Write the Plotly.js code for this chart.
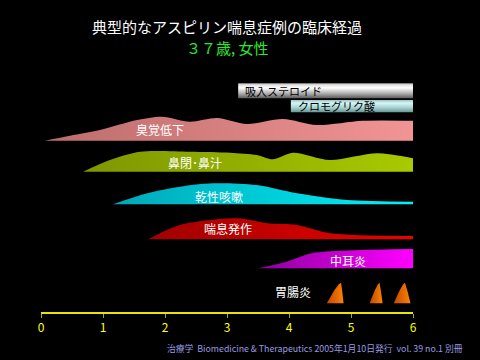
<!DOCTYPE html>
<html>
<head>
<meta charset="utf-8">
<script src="https://cdn.plot.ly/plotly-3.0.1.min.js"></script>
<style>html,body{margin:0;padding:0;background:#000;}#chart{width:480px;height:360px;}</style>
</head>
<body>
<div id="chart"></div>
<script>
// ---- data (years / intensity) ----
const titleText = '典型的なアスピリン喘息症例の臨床経過';
const subtitleText = '３７歳, 女性';
const footerText = '治療学  Biomedicine &amp; Therapeutics 2005年1月10日発行  vol. 39 no.1 別冊';
const tickVals = [0, 1, 2, 3, 4, 5, 6];
const tickLabels = ['0', '1', '2', '3', '4', '5', '6'];
const unitLabel = '(年)';

const bandNames = ['臭覚低下', '鼻閉･鼻汁', '乾性咳嗽', '喘息発作', '中耳炎'];
const smellX = [0.06, 0.47, 0.95, 1.55, 1.95, 2.40, 2.84, 3.32, 3.90, 4.45, 5.19, 6.0];
const smellH = [0, 5, 10.7, 20.7, 24, 19, 22.7, 16.7, 21.7, 15.7, 20, 20];
const noseX = [0.68, 1.11, 1.60, 2.40, 3.05, 3.48, 3.74, 4.06, 4.66, 5.42, 6.0];
const noseH = [0, 11.7, 20, 20, 19, 16.7, 12.4, 19, 11.7, 18.4, 13.4];
const coughX = [1.16, 1.71, 2.24, 2.77, 3.48, 4.13, 4.94, 6.0];
const coughH = [0, 11, 17.6, 21, 19.3, 11, 4.3, 2.6];
const asthmaX = [1.73, 2.24, 3.16, 3.65, 4.13, 4.66, 6.0];
const asthmaH = [0, 14.3, 21, 16, 14.3, 6, 3.3];
const earX = [3.50, 3.96, 4.39, 6.0];
const earH = [0, 6.6, 15.3, 19.3];

const giName = '胃腸炎';
const giStart = [4.61, 5.30, 5.69];
const giPeak = [4.84, 5.46, 5.87];
const giEnd = [4.88, 5.51, 5.96];
const giHeight = [20.6, 20.6, 20.6];

const treatNames = ['吸入ステロイド', 'クロモグリク酸'];
const treatStart = [3.18, 4.03];
const treatEnd = [6.03, 6.03];

// ---- layout / style ----
const rowBase = [171.3, 140.3, 107.7, 72.7, 43.7, 8.7];
const treatRows = [[213.7, 228.7], [199.7, 212.0]];
const bandGrad = [
  [[0, '#bc6c6c'], [1, '#f29494']],
  [[0, '#7e9600'], [1, '#a8ca00']],
  [[0, '#00a8b8'], [1, '#00f0f8']],
  [[0, '#a00000'], [1, '#ea0000']],
  [[0, '#8c00a0'], [1, '#ff00ff']]
];
const giGrad = [[0, '#c04800'], [1, '#ff8200']];
const treatGrad = [
  [[0, '#5a5a5a'], [0.35, '#b4b4b4'], [0.7, '#ffffff'], [0.9, '#e0e0e0'], [1, '#a8a8a8']],
  [[0, '#6a9494'], [0.4, '#a8d4d4'], [0.75, '#d8f6f6'], [1, '#9cc4c4']]
];
const bandLabelPos = [[1.92, 183], [2.48, 150], [2.87, 115.3], [3.02, 84], [4.95, 52]];
const giLabelPos = [4.06, 21];
const FONT = '"Noto Sans CJK JP", "Noto Sans", sans-serif';

const bandX = [smellX, noseX, coughX, asthmaX, earX];
const bandH = [smellH, noseH, coughH, asthmaH, earH];

const traces = [];
bandX.forEach((xs, i) => {
  const base = rowBase[i];
  traces.push({x: xs, y: xs.map(() => base), mode: 'lines', line: {width: 0},
    hoverinfo: 'skip', showlegend: false});
  traces.push({x: xs, y: bandH[i].map(h => base + h), mode: 'lines',
    line: {width: 0, shape: 'spline', smoothing: 0.8}, fill: 'tonexty',
    fillgradient: {type: 'horizontal', colorscale: bandGrad[i]},
    hoverinfo: 'skip', showlegend: false, name: bandNames[i]});
});

giStart.forEach((s, i) => {
  const p = giPeak[i], e = giEnd[i], h = giHeight[i], b = rowBase[5];
  const fx = [0, 0.25, 0.55, 0.85, 1];
  const fy = [0, 0.32, 0.66, 0.92, 1];
  const xs = fx.map(f => s + f * (p - s)).concat([p + 0.5 * (e - p), e, s]);
  const ys = fy.map(f => b + f * h).concat([b + 0.55 * h, b, b]);
  traces.push({x: xs, y: ys, mode: 'lines', line: {width: 0}, fill: 'toself',
    fillgradient: {type: 'horizontal', colorscale: giGrad},
    hoverinfo: 'skip', showlegend: false, name: giName});
});

treatStart.forEach((s, i) => {
  const lo = treatRows[i][0], hi = treatRows[i][1], e = treatEnd[i];
  traces.push({x: [s, e, e, s, s], y: [lo, lo, hi, hi, lo], mode: 'lines',
    line: {width: 0}, fill: 'toself',
    fillgradient: {type: 'vertical', colorscale: treatGrad[i]},
    hoverinfo: 'skip', showlegend: false, name: treatNames[i], cliponaxis: false});
});

const annotations = [];
bandNames.forEach((n, i) => {
  annotations.push({x: bandLabelPos[i][0], y: bandLabelPos[i][1], xref: 'x', yref: 'y',
    text: n, showarrow: false, font: {family: FONT, size: 12, color: '#ffffff'}});
});
annotations.push({x: giLabelPos[0], y: giLabelPos[1], xref: 'x', yref: 'y', text: giName,
  showarrow: false, font: {family: FONT, size: 12, color: '#ffffff'}});
treatNames.forEach((n, i) => {
  annotations.push({x: treatStart[i] + 0.08, y: (treatRows[i][0] + treatRows[i][1]) / 2,
    xref: 'x', yref: 'y', xanchor: 'left', text: n, showarrow: false,
    font: {family: FONT, size: 11, color: '#000000'}});
});
annotations.push({x: 0.5, y: 264 / 252, xref: 'paper', yref: 'paper', xanchor: 'center', yanchor: 'middle',
  text: subtitleText, showarrow: false, font: {family: FONT, size: 15, color: '#2ee82e'}});
annotations.push({x: 6.24, y: -12 / 252, xref: 'x', yref: 'paper', text: unitLabel,
  showarrow: false, yanchor: 'middle', font: {family: FONT, size: 12, color: '#ffff00'}});
annotations.push({x: 124 / 372, y: -36 / 252, xref: 'paper', yref: 'paper', xanchor: 'left', yanchor: 'middle',
  text: footerText, showarrow: false, font: {family: FONT, size: 8.8, color: '#9a9ae0'}});

const layout = {
  width: 480, height: 360,
  margin: {l: 41, r: 67, t: 60, b: 48, pad: 0},
  paper_bgcolor: '#000000', plot_bgcolor: '#000000',
  showlegend: false,
  title: {text: titleText, x: 0.5, xref: 'paper', xanchor: 'center', y: 1 - 28 / 360, yanchor: 'middle',
    font: {family: FONT, size: 15, color: '#ffffff'}},
  xaxis: {range: [0, 6], tickvals: tickVals, ticktext: tickLabels, showline: true,
    linecolor: '#e6e600', linewidth: 2, ticks: 'outside', ticklen: 4, tickwidth: 1,
    tickcolor: '#a8a800', tickfont: {family: FONT, size: 12, color: '#ffff00'},
    showgrid: false, zeroline: false, fixedrange: true},
  yaxis: {range: [0, 252], visible: false, fixedrange: true},
  annotations: annotations
};

Plotly.newPlot('chart', traces, layout, {displayModeBar: false, staticPlot: true});
</script>
</body>
</html>
